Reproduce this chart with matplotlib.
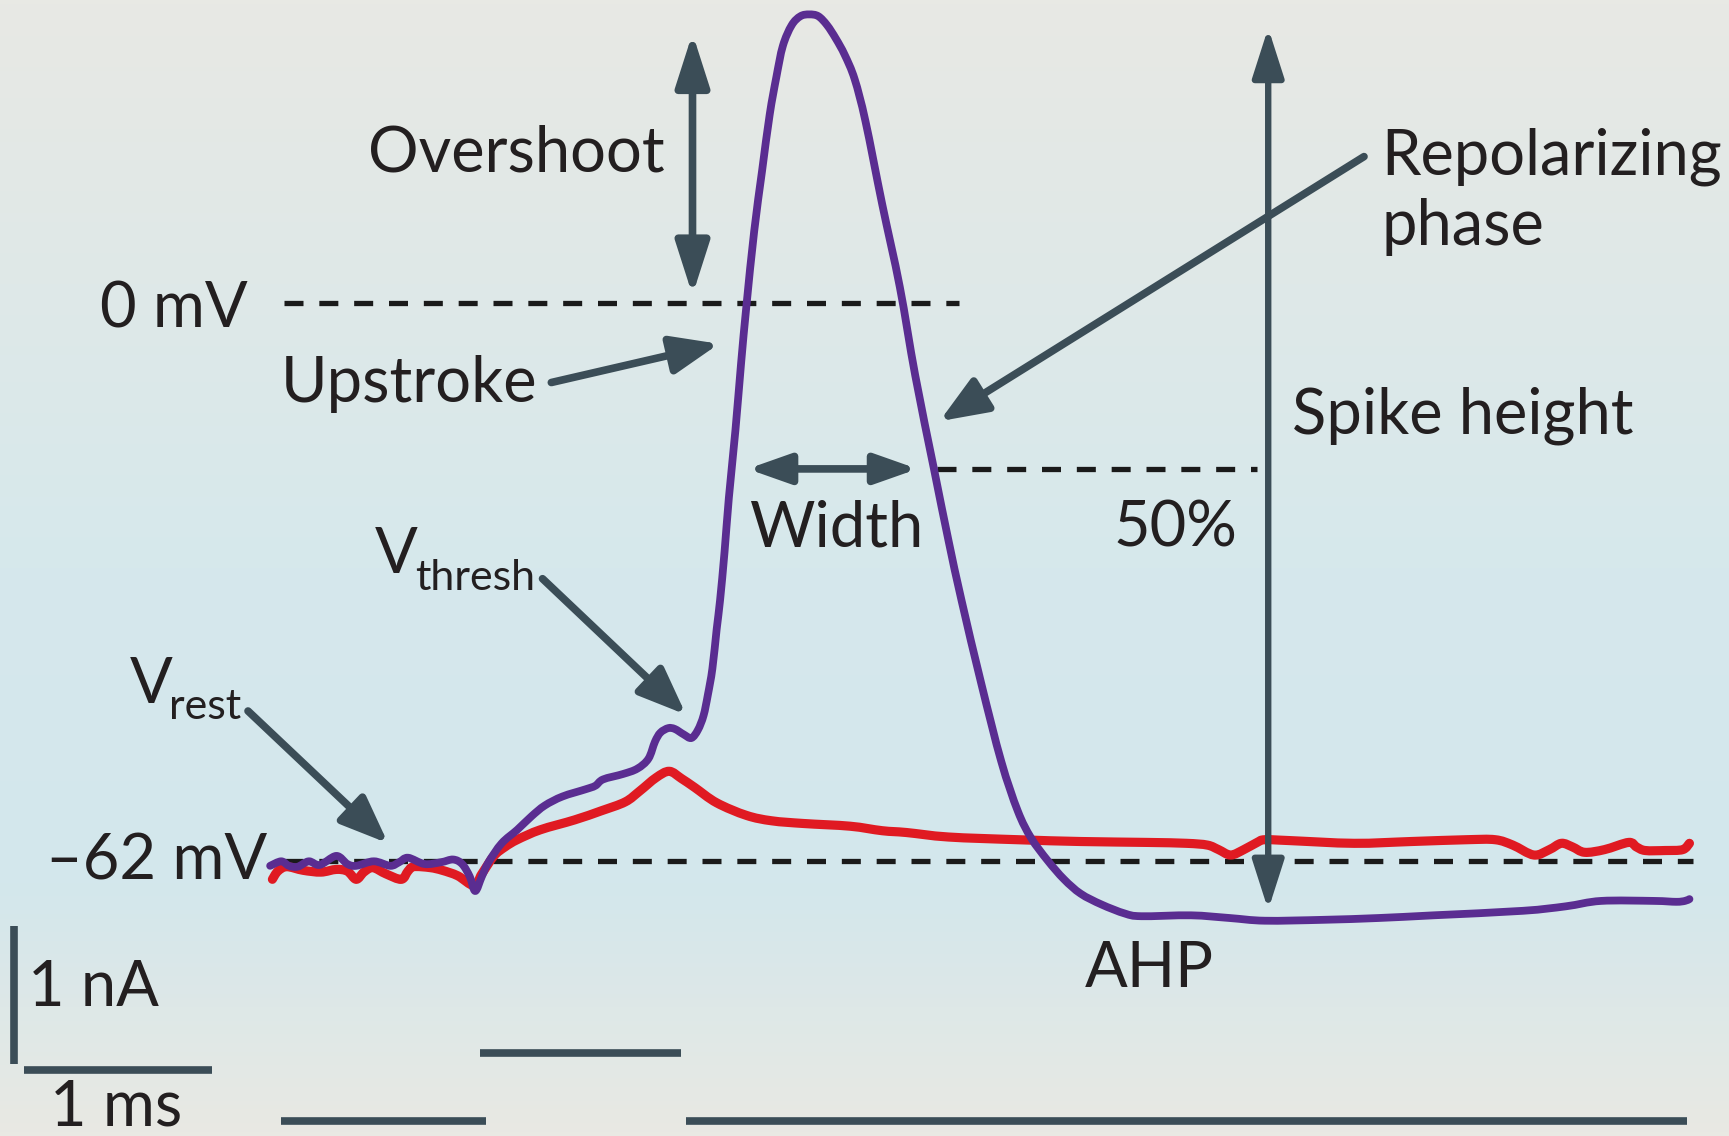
import numpy as np
import matplotlib
matplotlib.use("Agg")
import matplotlib.pyplot as plt
from matplotlib.colors import LinearSegmentedColormap
from matplotlib.patches import FancyArrowPatch, PathPatch
from matplotlib.path import Path

INK = "#231f20"; SLATE = "#3b4d57"; PURPLE = "#5a2d91"; RED = "#e01a22"
FONT = ["Lato", "DejaVu Sans"]

# spike trace (ms, mV)
spike_t = [0.000, 0.059, 0.100, 0.147, 0.206, 0.265, 0.353, 0.412, 0.459, 0.553, 0.641, 0.688,
           0.735, 0.824, 0.912, 0.976, 1.024, 1.065, 1.094, 1.129, 1.165, 1.235, 1.318, 1.394,
           1.465, 1.559, 1.682, 1.735, 1.776, 1.882, 1.959, 2.018, 2.053, 2.082, 2.124, 2.159,
           2.206, 2.247, 2.282, 2.312, 2.335, 2.359, 2.382, 2.400, 2.424, 2.447, 2.482, 2.512,
           2.541, 2.582, 2.624, 2.665, 2.700, 2.735, 2.782, 2.829, 2.876, 2.924, 2.971, 3.018,
           3.065, 3.118, 3.176, 3.265, 3.359, 3.441, 3.541, 3.618, 3.688, 3.794, 3.900, 3.988,
           4.059, 4.147, 4.235, 4.324, 4.435, 4.559, 4.647, 4.912, 5.118, 5.306, 5.618, 5.912,
           6.206, 6.682, 6.912, 7.100, 7.382, 7.500, 7.547, 7.571]
spike_v = [-62.5, -62.0, -62.5, -62.6, -62.0, -62.4, -61.4, -62.3, -62.5, -62.0, -62.5, -62.1,
           -61.6, -62.3, -62.1, -61.8, -62.3, -63.7, -65.3, -63.7, -62.1, -60.0, -58.5, -57.0,
           -55.8, -54.8, -54.0, -53.6, -52.9, -52.3, -51.7, -50.6, -48.7, -47.7, -47.2, -47.3,
           -47.9, -48.3, -47.4, -45.8, -43.5, -40.6, -36.2, -33.0, -27.6, -21.6, -14.1, -6.7,
           -0.2, 8.0, 14.7, 21.0, 25.1, 28.6, 30.9, 31.9, 32.1, 31.9, 30.9, 29.4,
           27.6, 24.9, 20.2, 11.0, 1.8, -8.0, -18.4, -26.3, -33.0, -42.3, -50.9, -56.4,
           -59.4, -61.9, -64.0, -65.6, -66.8, -67.8, -68.1, -68.0, -68.3, -68.6, -68.5, -68.3,
           -68.0, -67.5, -67.0, -66.4, -66.4, -66.5, -66.4, -66.2]

# subthreshold trace (ms, mV)
sub_t = [0.012, 0.041, 0.088, 0.176, 0.271, 0.353, 0.412, 0.459, 0.500, 0.547, 0.618, 0.700,
         0.735, 0.765, 0.853, 0.918, 1.000, 1.088, 1.129, 1.194, 1.253, 1.318, 1.441, 1.624,
         1.765, 1.894, 1.971, 2.059, 2.129, 2.194, 2.265, 2.382, 2.541, 2.676, 2.847, 3.094,
         3.265, 3.394, 3.618, 3.988, 4.324, 4.676, 4.888, 5.000, 5.059, 5.124, 5.194, 5.265,
         5.306, 5.441, 5.782, 6.088, 6.382, 6.535, 6.629, 6.741, 6.824, 6.888, 6.947, 7.012,
         7.118, 7.247, 7.288, 7.335, 7.441, 7.535, 7.571]
sub_v = [-64.0, -63.1, -62.6, -63.0, -63.2, -62.9, -63.1, -64.0, -63.2, -62.7, -63.4, -64.0,
         -63.1, -62.6, -62.7, -63.0, -63.6, -64.7, -63.4, -61.4, -60.4, -59.6, -58.5, -57.4,
         -56.4, -55.4, -54.2, -52.7, -52.0, -52.8, -53.8, -55.5, -56.9, -57.5, -57.8, -58.1,
         -58.6, -58.8, -59.3, -59.6, -59.8, -59.9, -60.0, -60.2, -60.7, -61.3, -60.7, -59.9,
         -59.6, -59.7, -60.0, -59.8, -59.6, -59.6, -60.2, -61.3, -60.7, -60.0, -60.4, -61.0,
         -60.7, -59.9, -60.4, -60.8, -60.8, -60.7, -60.0]

# current injection steps (ms, nA)
stim_start = [0.06, 1.12, 2.22]
stim_end = [1.15, 2.19, 7.56]
stim_amp = [0.0, 0.5, 0.0]

V_REST = -62; V_ZERO = 0; V_HALF = -18.4
I_BASE = -90.9; NA_UNIT = 15.3   # 1 nA drawn as this many mV-units

fig = plt.figure(figsize=(17.29, 11.36), dpi=100)
ax = fig.add_axes([0, 0, 1, 1])
ax.set_xlim(-1.441, 7.782); ax.set_ylim(-92.52, 33.70)
ax.axis("off")

# background gradient
cmap = LinearSegmentedColormap.from_list("bg", [(0, "#e9e9e3"), (0.22, "#d3e7ec"),
                                                 (0.5, "#d6e8ec"), (1.0, "#e8e9e4")])
ax.imshow(np.linspace(0, 1, 256)[:, None], extent=(-1.441, 7.782, -92.52, 33.70),
          aspect="auto", cmap=cmap, origin="lower", zorder=0)

dash = dict(color="#1a1a1a", lw=3.8, dashes=(3.6, 3.0), zorder=2)
ax.plot([0.076, 3.676], [V_ZERO, V_ZERO], **dash)
ax.plot([0.076, 7.588], [V_REST, V_REST], **dash)
ax.plot([3.559, 5.265], [V_HALF, V_HALF], **dash)


def smooth_trace(t, v, color, lw, z):
    # draw the recorded points as a Catmull-Rom curve (bezier path through every point)
    p = np.column_stack([t, v])
    verts = [p[0]]; codes = [Path.MOVETO]
    for i in range(len(p) - 1):
        a = p[max(i - 1, 0)]; b = p[i]; c = p[i + 1]; d = p[min(i + 2, len(p) - 1)]
        verts += [b + (c - a) / 6, c - (d - b) / 6, c]
        codes += [Path.CURVE4] * 3
    ax.add_patch(PathPatch(Path(verts, codes), fill=False, edgecolor=color, lw=lw,
                           capstyle="round", joinstyle="round", zorder=z))


smooth_trace(sub_t, sub_v, RED, 6.6, 3)
smooth_trace(spike_t, spike_v, PURPLE, 5.6, 4)

for t0, t1, a in zip(stim_start, stim_end, stim_amp):
    y = I_BASE + a * NA_UNIT
    ax.plot([t0, t1], [y, y], color=SLATE, lw=5.5, solid_capstyle="butt", zorder=2)

# scale bars
ax.plot([-1.365, -1.365], [-69.2, -69.2 - NA_UNIT], color=SLATE, lw=5.5, solid_capstyle="butt")
ax.plot([-1.312, -0.312], [-85.2, -85.2], color=SLATE, lw=5.5, solid_capstyle="butt")


def arrow(p0, p1, style="-|>", lw=5.5, hl=1.0, hw=0.32, ms=32):
    a = FancyArrowPatch(p0, p1, arrowstyle=f"{style},head_length={hl},head_width={hw}",
                        mutation_scale=ms, color=SLATE, lw=lw, shrinkA=0, shrinkB=0, zorder=5)
    ax.add_patch(a)


arrow((2.253, 0.9), (2.253, 30.0), "<|-|>")
arrow((2.547, V_HALF), (3.453, V_HALF), "<|-|>", hl=0.85, hw=0.3, ms=30)
arrow((5.324, -67.4), (5.324, 30.6), "<|-|>", lw=4.6, ms=30)
arrow((1.50, -8.8), (2.394, -4.5), hl=0.9, hw=0.36)
arrow((5.835, 16.3), (3.571, -13.1), hl=0.9, hw=0.36)
arrow((1.453, -30.6), (2.218, -45.7), hl=0.9, hw=0.36)
arrow((-0.118, -45.3), (0.629, -60.0), hl=0.9, hw=0.36)


def label(x, y, s, ha="left", size=45.5, **kw):
    ax.text(x, y, s, ha=ha, va="baseline", fontsize=size, color=INK, family=FONT,
            zorder=6, **kw)


label(2.106, 14.7, "Overshoot", ha="right")
label(-0.118, -2.7, "0 mV", ha="right")
label(0.059, -11.0, "Upstroke")
label(3.018, -27.0, "Width", ha="center")
label(4.829, -27.0, "50%", ha="center")
label(5.453, -14.5, "Spike height")
label(5.929, 14.3, "Repolarizing")
label(5.929, 6.5, "phase")
label(0.559, -30.0, "V")
label(0.771, -31.9, "thresh", size=31)
label(-0.747, -44.4, "V")
label(-0.541, -46.2, "rest", size=31)
label(-0.018, -64.0, "\u201362 mV", ha="right")
label(4.688, -76.0, "AHP", ha="center")
label(-1.294, -78.1, "1 nA")
label(-0.824, -91.3, "1 ms", ha="center")

fig.savefig("out.png", dpi=100)
